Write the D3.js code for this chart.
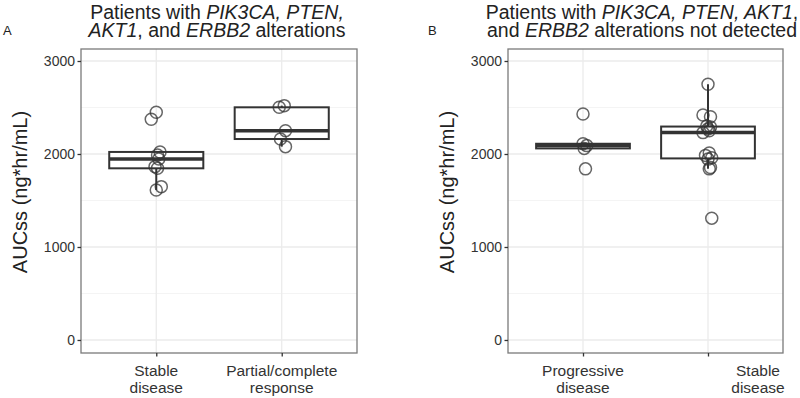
<!DOCTYPE html>
<html>
<head>
<meta charset="utf-8">
<script src="https://cdn.jsdelivr.net/npm/d3@7"></script>
<style>
  body { margin: 0; background: #fff; }
  svg { font-family: "Liberation Sans", Arial, sans-serif; }
</style>
</head>
<body>
<svg id="chart" width="800" height="398"></svg>
<script>
// values (ng*hr/mL)
var catsA = ["Stable disease", "Partial/complete response"]
var catsB = ["Progressive disease", "Stable disease"]

var aStable = [2449, 2373, 2022, 1989, 1946, 1864, 1846, 1649, 1613]
var aResponse = [2502, 2520, 2251, 2161, 2079]
var bProgressive = [2430, 2110, 2090, 2060, 1840]
var bStable = [2750, 2420, 2400, 2300, 2290, 2270, 2250, 2230, 2010, 1985, 1960, 1945, 1855, 1840, 1310]

// horizontal jitter of each point, in category steps
var jitAStable = [0.0, -0.04, 0.03, 0.01, 0.02, -0.01, 0.01, 0.04, 0.0]
var jitAResponse = [-0.02, 0.02, 0.03, -0.01, 0.03]
var jitBProgressive = [0.0, 0.0, 0.03, 0.01, 0.02]
var jitBStable = [0.0, -0.04, 0.02, -0.01, 0.02, 0.0, 0.01, -0.04, 0.01, -0.02, 0.03, 0.0, 0.02, 0.01, 0.03]

var yTicks = [0, 1000, 2000, 3000]
var yMinor = [500, 1500, 2500]

var svg = d3.select("#chart")

var dims = {
    top: 49,
    bottom: 353,
    yDomain: [-140, 3129]
}

var panels = [
    {
        letter: "A", left: 81, right: 357, cats: catsA,
        groups: [aStable, aResponse], jitter: [jitAStable, jitAResponse],
        title: [["Patients with ", "n"], ["PIK3CA, PTEN,", "i"]],
        title2: [["AKT1", "i"], [", and ", "n"], ["ERBB2", "i"], [" alterations", "n"]],
        titleX: 217, labelX: 3, yLabelX: 27
    },
    {
        letter: "B", left: 508, right: 783, cats: catsB,
        groups: [bProgressive, bStable], jitter: [jitBProgressive, jitBStable],
        title: [["Patients with ", "n"], ["PIK3CA, PTEN, AKT1", "i"], [",", "n"]],
        title2: [["and ", "n"], ["ERBB2", "i"], [" alterations not detected", "n"]],
        titleX: 642, labelX: 428, yLabelX: 454
    }
]

function boxStats(values) {
    var s = values.slice().sort(d3.ascending)
    var q1 = d3.quantile(s, 0.25), med = d3.quantile(s, 0.5), q3 = d3.quantile(s, 0.75)
    var iqr = q3 - q1
    var lo = d3.min(s.filter(v => v >= q1 - 1.5 * iqr))
    var hi = d3.max(s.filter(v => v <= q3 + 1.5 * iqr))
    return {q1: q1, med: med, q3: q3, lo: lo, hi: hi}
}

panels.forEach(function(p, pi) {
    var g = svg.append("g")

    var x = d3.scalePoint()
        .domain(p.cats)
        .range([p.left, p.right])
        .padding(0.6)
    var step = x.step()

    var y = d3.scaleLinear()
        .domain(dims.yDomain)
        .range([dims.bottom, dims.top])

    // grid
    g.selectAll(".minor")
        .data(yMinor)
        .enter()
        .append("line")
        .attr("x1", p.left).attr("x2", p.right)
        .attr("y1", d => y(d)).attr("y2", d => y(d))
        .attr("stroke", "#f4f4f4")
        .attr("stroke-width", 1)
    g.selectAll(".major")
        .data(yTicks)
        .enter()
        .append("line")
        .attr("x1", p.left).attr("x2", p.right)
        .attr("y1", d => y(d)).attr("y2", d => y(d))
        .attr("stroke", "#ebebeb")
        .attr("stroke-width", 1.3)
    g.selectAll(".vgrid")
        .data(p.cats)
        .enter()
        .append("line")
        .attr("x1", d => x(d)).attr("x2", d => x(d))
        .attr("y1", dims.top).attr("y2", dims.bottom)
        .attr("stroke", "#ebebeb")
        .attr("stroke-width", 1.3)

    // boxes
    p.groups.forEach(function(vals, gi) {
        var st = boxStats(vals)
        var cx = x(p.cats[gi])
        var bw = 0.75 * step
        var bg = g.append("g").attr("stroke", "#333").attr("fill", "none")
        bg.append("line")
            .attr("x1", cx).attr("x2", cx)
            .attr("y1", y(st.q3)).attr("y2", y(st.hi))
            .attr("stroke-width", 2)
        bg.append("line")
            .attr("x1", cx).attr("x2", cx)
            .attr("y1", y(st.q1)).attr("y2", y(st.lo))
            .attr("stroke-width", 2)
        bg.append("rect")
            .attr("x", cx - bw / 2)
            .attr("width", bw)
            .attr("y", y(st.q3))
            .attr("height", y(st.q1) - y(st.q3))
            .attr("fill", "#fff")
            .attr("stroke-width", 2)
        bg.append("line")
            .attr("x1", cx - bw / 2).attr("x2", cx + bw / 2)
            .attr("y1", y(st.med)).attr("y2", y(st.med))
            .attr("stroke-width", 3.5)

        g.append("g")
            .selectAll("circle")
            .data(vals)
            .enter()
            .append("circle")
            .attr("cx", (d, i) => cx + p.jitter[gi][i] * step)
            .attr("cy", d => y(d))
            .attr("r", 6)
            .attr("fill", "none")
            .attr("stroke", "#333")
            .attr("stroke-opacity", 0.75)
            .attr("stroke-width", 1.5)
    })

    // panel border
    g.append("rect")
        .attr("x", p.left).attr("y", dims.top)
        .attr("width", p.right - p.left)
        .attr("height", dims.bottom - dims.top)
        .attr("fill", "none")
        .attr("stroke", "#7a7a7a")
        .attr("stroke-width", 1.3)

    // y axis
    var yAxis = g.append("g")
        .attr("transform", `translate(${p.left},0)`)
        .call(d3.axisLeft(y).tickValues(yTicks).tickSize(3.5).tickPadding(2.5).tickFormat(d3.format("d")))
    yAxis.select(".domain").remove()
    yAxis.selectAll("line").attr("stroke", "#333").attr("stroke-width", 1.3)
    yAxis.selectAll("text")
        .attr("font-size", 14)
        .attr("fill", "#333")
        .attr("font-family", "Liberation Sans, Arial, sans-serif")

    // x axis
    var xAxis = g.append("g")
        .attr("transform", `translate(0,${dims.bottom})`)
        .call(d3.axisBottom(x).tickSize(3.5).tickFormat(""))
    xAxis.select(".domain").remove()
    xAxis.selectAll("line").attr("stroke", "#333").attr("stroke-width", 1.3)

    p.cats.forEach(function(c, ci) {
        var words = c.split(/ (?=[^ ]+$)/)
        var shift = (pi === 1 && ci === 1) ? 50 : 0
        var t = g.append("text")
            .attr("text-anchor", "middle")
            .attr("font-size", 15.5)
            .attr("fill", "#333")
        words.forEach(function(w, wi) {
            t.append("tspan")
                .attr("x", x(c) + shift)
                .attr("y", 376 + wi * 17)
                .text(w)
        })
    })

    // y label
    var midY = 192
    g.append("text")
        .attr("text-anchor", "middle")
        .attr("transform", `rotate(-90, ${p.yLabelX}, ${midY})`)
        .attr("x", p.yLabelX)
        .attr("y", midY)
        .attr("font-size", 20)
        .attr("fill", "#222")
        .text("AUCss (ng*hr/mL)")

    // title
    ;[p.title, p.title2].forEach(function(line, li) {
        var t = g.append("text")
            .attr("text-anchor", "middle")
            .attr("x", p.titleX)
            .attr("y", 19 + li * 18)
            .attr("font-size", 19.5)
            .attr("fill", "#222")
        line.forEach(function(seg) {
            t.append("tspan")
                .attr("font-style", seg[1] === "i" ? "italic" : "normal")
                .text(seg[0])
        })
    })

    g.append("text")
        .attr("x", p.labelX)
        .attr("y", 35)
        .attr("font-size", 13)
        .attr("fill", "#222")
        .text(p.letter)
})
</script>
</body>
</html>
